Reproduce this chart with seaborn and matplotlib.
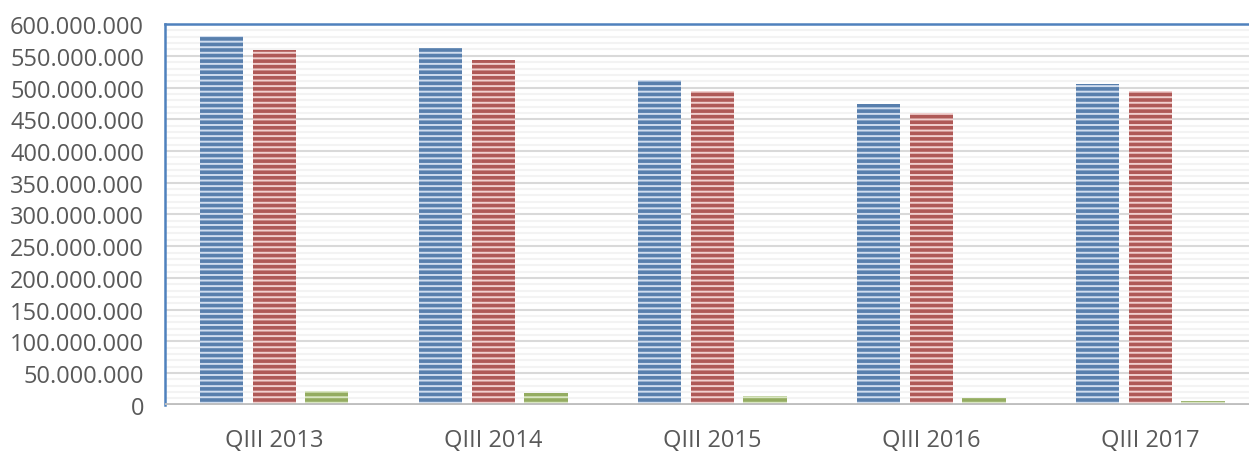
import pandas as pd
import numpy as np
import matplotlib
matplotlib.use('Agg')
import matplotlib.pyplot as plt
from matplotlib.ticker import FuncFormatter, MultipleLocator
import seaborn as sns

#------------------------------------------------
quarters=['QIII 2013', 'QIII 2014', 'QIII 2015', 'QIII 2016', 'QIII 2017']
serie_1=[581e6, 562e6, 512e6, 474e6, 505e6]
serie_2=[559e6, 543e6, 494e6, 460e6, 494e6]
serie_3=[22e6, 19e6, 14e6, 11e6, 6e6]
series=['Serie 1', 'Serie 2', 'Serie 3']

colors=['#4a7ebb', '#be4b48', '#98b954']
stripes=['#d0ddef', '#f1cfce', '#d9e6c2']

#########################################################
df=pd.DataFrame({'quarter': quarters, series[0]: serie_1, series[1]: serie_2, series[2]: serie_3})
df=df.melt(id_vars='quarter', var_name='serie', value_name='value')

sns.set_style('white')
plt.rcParams['font.family']=['Open Sans', 'DejaVu Sans']
plt.rcParams['hatch.linewidth']=1.4

fig=plt.figure(figsize=(12.49, 4.56), dpi=100)
ax=fig.add_axes([0.132, 0.110, 0.868, 0.835])

#plot
sns.barplot(data=df, x='quarter', y='value', hue='serie', palette=colors,
            width=0.72, gap=0.18, legend=False, ax=ax, zorder=3)

#striped bars
for cont, ec in zip(ax.containers, stripes):
    for bar in cont:
        bar.set_hatch('---')
        bar.set_edgecolor(ec)
        bar.set_linewidth(0)

#grid
ax.yaxis.set_major_locator(MultipleLocator(50e6))
ax.yaxis.set_minor_locator(MultipleLocator(10e6))
ax.grid(axis='y', which='major', color='#d9d9d9', lw=1.5, zorder=0)
ax.grid(axis='y', which='minor', color='#f3f3f3', lw=1.5, zorder=0)
ax.set_axisbelow(True)
ax.axhline(0, color='#bfbfbf', lw=3.5, zorder=4)

#adjust
ax.set_ylim(0, 600e6)
ax.set_xlim(-0.5, 4.45)
ax.yaxis.set_major_formatter(FuncFormatter(lambda v, p: f'{int(round(v)):,}'.replace(',', '.')))
ax.tick_params(axis='y', which='both', length=0, pad=15, labelsize=17, labelcolor='#595959')
ax.tick_params(axis='x', which='both', length=0, pad=17, labelsize=17, labelcolor='#595959')
ax.set_xlabel('')
ax.set_ylabel('')

for s in ['right', 'bottom']:
    ax.spines[s].set_visible(False)
for s in ['top', 'left']:
    ax.spines[s].set_color('#4f81bd')
    ax.spines[s].set_linewidth(1.8)

#save
plt.savefig('out.png', dpi=100)
plt.close()
